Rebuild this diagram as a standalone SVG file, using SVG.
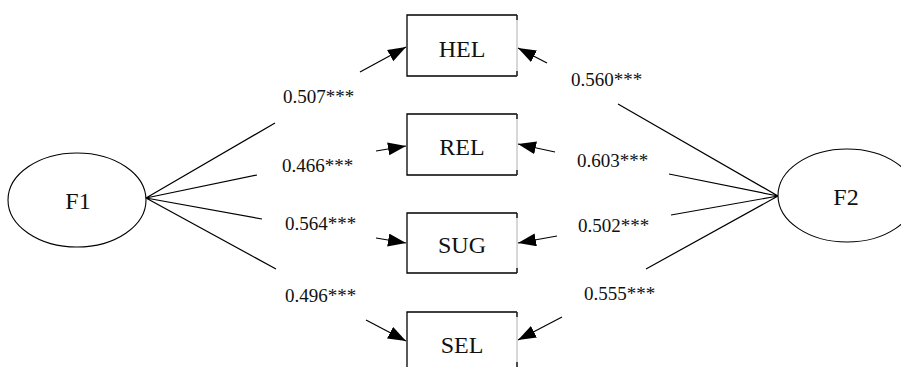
<svg xmlns="http://www.w3.org/2000/svg" width="901" height="367" viewBox="0 0 901 367">
  <style>
    .lat { fill: #fff; stroke: #000; stroke-width: 1.1; }
    .box { fill: #fff; stroke: #000; stroke-width: 1.3; }
    .edge-r { stroke: #b0b0b0; stroke-width: 1; fill: none; }
    .tick { stroke: #000; stroke-width: 1.3; fill: none; }
    .lbl { font-family: "Liberation Serif", "Times New Roman", serif; font-size: 24px; fill: #111; text-anchor: middle; }
    .coef { font-family: "Liberation Serif", "Times New Roman", serif; font-size: 19px; fill: #111; }
    .ln { stroke: #000; stroke-width: 1.2; fill: none; }
    .arr { stroke: #000; stroke-width: 1.2; fill: none; marker-end: url(#head); }
  </style>
  <defs>
    <marker id="head" markerUnits="userSpaceOnUse" markerWidth="19" markerHeight="14" refX="18" refY="6.5" orient="auto">
      <path d="M0,0 L18,6.5 L0,13 Z" fill="#000"/>
    </marker>
  </defs>
  <rect width="901" height="367" fill="#fff"/>

  <!-- connectors: factor loadings -->
  <g id="connectors">
    <path class="ln" d="M146,198 L275,123 M146,198 L257,175 M146,198 L262,219 M146,198 L276,269"/>
    <path class="ln" d="M778,196 L618,104 M778,196 L669,174 M778,196 L671,215 M778,196 L646,269"/>
    <path class="arr" d="M360,72 L406,47"/>
    <path class="arr" d="M376,151 L406,146"/>
    <path class="arr" d="M376,238 L406,243"/>
    <path class="arr" d="M366,320 L406,341"/>
    <path class="arr" d="M547,63 L518,48"/>
    <path class="arr" d="M555,152 L518,144"/>
    <path class="arr" d="M557,236 L518,243"/>
    <path class="arr" d="M562,317 L518,340"/>
  </g>

  <!-- coefficient labels -->
  <g id="coefficients">
    <text class="coef" x="283" y="103">0.507***</text>
    <text class="coef" x="282" y="172">0.466***</text>
    <text class="coef" x="285" y="230">0.564***</text>
    <text class="coef" x="285" y="302">0.496***</text>
    <text class="coef" x="571" y="86">0.560***</text>
    <text class="coef" x="577" y="167">0.603***</text>
    <text class="coef" x="578" y="232">0.502***</text>
    <text class="coef" x="584" y="300">0.555***</text>
  </g>

  <g id="F1">
    <ellipse class="lat" cx="77" cy="200" rx="69" ry="47"/>
    <text class="lbl" x="78" y="209">F1</text>
  </g>
  <g id="F2">
    <ellipse class="lat" cx="847" cy="195.5" rx="69" ry="46.5"/>
    <text class="lbl" x="846" y="205">F2</text>
  </g>

  <g id="HEL">
    <path class="box" d="M517,15 L407,15 L407,76 L517,76"/>
    <path class="edge-r" d="M517,15 L517,76"/>
    <path class="tick" d="M517,15 L517,20 M517,71 L517,76"/>
    <text class="lbl" x="462" y="57">HEL</text>
  </g>
  <g id="REL">
    <path class="box" d="M517,114 L407,114 L407,175 L517,175"/>
    <path class="edge-r" d="M517,114 L517,175"/>
    <path class="tick" d="M517,114 L517,119 M517,170 L517,175"/>
    <text class="lbl" x="462" y="155">REL</text>
  </g>
  <g id="SUG">
    <path class="box" d="M517,213 L407,213 L407,273 L517,273"/>
    <path class="edge-r" d="M517,213 L517,273"/>
    <path class="tick" d="M517,213 L517,218 M517,268 L517,273"/>
    <text class="lbl" x="462" y="253">SUG</text>
  </g>
  <g id="SEL">
    <path class="box" d="M517,312 L407,312 L407,373 L517,373"/>
    <path class="edge-r" d="M517,312 L517,373"/>
    <path class="tick" d="M517,312 L517,317 M517,362 L517,367"/>
    <text class="lbl" x="462" y="353">SEL</text>
  </g>
</svg>
